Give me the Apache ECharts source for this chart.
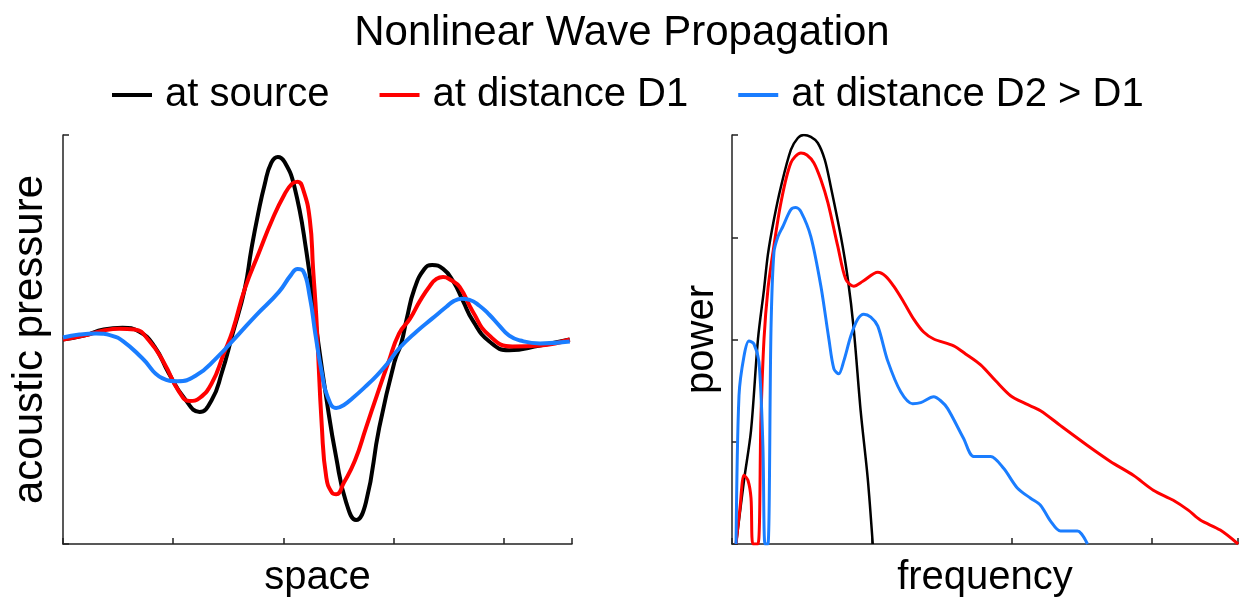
<!DOCTYPE html>
<html>
<head>
<meta charset="utf-8">
<script src="https://cdn.jsdelivr.net/npm/echarts@6/dist/echarts.min.js"></script>
<style>
  html, body { margin: 0; padding: 0; background: #fff; }
  #main { width: 1244px; height: 603px; }
</style>
</head>
<body>
<div id="main"></div>
<script>
// legend names
const seriesNames = ["at source", "at distance D1", "at distance D2 > D1"];
const colors = ["#000000", "#ff0000", "#1a7dff"];

// left panel: pressure vs space  [x, y]
const srcWave = [
  [0, 0], [0.19, 0.019], [0.37, 0.049], [0.54, 0.058], [0.69, 0.039], [0.83, -0.034],
  [0.96, -0.165], [1.10, -0.286], [1.24, -0.354], [1.35, -0.296], [1.44, -0.165],
  [1.54, 0.029], [1.65, 0.248], [1.71, 0.442], [1.77, 0.612], [1.83, 0.757], [1.89, 0.864],
  [1.95, 0.893], [2.01, 0.869], [2.10, 0.748], [2.21, 0.427], [2.30, 0.053], [2.39, -0.286],
  [2.48, -0.578], [2.57, -0.796], [2.66, -0.883], [2.75, -0.796], [2.87, -0.432],
  [3.01, -0.107], [3.07, -0.019], [3.12, 0.102], [3.19, 0.248], [3.28, 0.345], [3.35, 0.364],
  [3.45, 0.345], [3.54, 0.286], [3.63, 0.189], [3.72, 0.092], [3.87, -0.010], [4.05, -0.053],
  [4.33, -0.029], [4.60, 0]
];
const d1Wave = [
  [0, 0], [0.19, 0.019], [0.37, 0.044], [0.51, 0.053], [0.65, 0.049], [0.78, -0.005],
  [0.92, -0.117], [1.05, -0.252], [1.15, -0.301], [1.24, -0.286], [1.35, -0.214],
  [1.46, -0.068], [1.54, 0.044], [1.65, 0.248], [1.78, 0.427], [1.90, 0.587], [2.01, 0.709],
  [2.08, 0.762], [2.13, 0.772], [2.18, 0.733], [2.24, 0.587], [2.27, 0.345], [2.30, 0.102],
  [2.35, -0.432], [2.39, -0.675], [2.44, -0.748], [2.48, -0.757], [2.55, -0.699],
  [2.65, -0.592], [2.75, -0.432], [2.85, -0.272], [2.95, -0.117], [3.05, 0.029],
  [3.15, 0.102], [3.24, 0.189], [3.33, 0.262], [3.39, 0.296], [3.45, 0.306], [3.52, 0.291],
  [3.60, 0.257], [3.72, 0.136], [3.87, 0.019], [4.08, -0.034], [4.33, -0.029], [4.60, 0]
];
const d2Wave = [
  [0, 0.010], [0.15, 0.024], [0.30, 0.029], [0.44, 0.019], [0.55, -0.010], [0.72, -0.092],
  [0.90, -0.189], [1.04, -0.204], [1.21, -0.175], [1.39, -0.092], [1.60, 0.029],
  [1.75, 0.117], [1.96, 0.233], [2.07, 0.316], [2.13, 0.345], [2.18, 0.335], [2.24, 0.209],
  [2.29, 0.029], [2.35, -0.165], [2.40, -0.277], [2.48, -0.335], [2.55, -0.320],
  [2.63, -0.286], [2.74, -0.233], [2.85, -0.175], [2.96, -0.107], [3.05, -0.044],
  [3.21, 0.039], [3.35, 0.102], [3.48, 0.160], [3.55, 0.189], [3.62, 0.199], [3.69, 0.194],
  [3.78, 0.165], [3.87, 0.121], [3.96, 0.068], [4.05, 0.019], [4.15, -0.005], [4.33, -0.019],
  [4.60, -0.010]
];

// right panel: power vs frequency  [x, y]
const srcSpec = [
  [0.029, 0], [0.086, 0.623], [0.136, 1.109], [0.186, 2.005], [0.229, 2.491], [0.257, 2.832],
  [0.300, 3.173], [0.350, 3.494], [0.421, 3.854], [0.471, 3.971], [0.514, 4.000],
  [0.564, 3.981], [0.614, 3.922], [0.664, 3.757], [0.707, 3.494], [0.779, 3.007],
  [0.829, 2.589], [0.871, 2.102], [0.921, 1.294], [0.971, 0.642], [1.007, 0]
];
const d1Spec = [
  [0.029, 0], [0.057, 0.350], [0.086, 0.672], [0.114, 0.623], [0.136, 0.448], [0.150, 0],
  [0.186, 0], [0.207, 1.226], [0.229, 2.005], [0.257, 2.491], [0.293, 2.852], [0.350, 3.338],
  [0.421, 3.727], [0.493, 3.825], [0.536, 3.805], [0.586, 3.727], [0.636, 3.562],
  [0.686, 3.338], [0.757, 2.910], [0.814, 2.589], [0.871, 2.521], [0.936, 2.569],
  [1.043, 2.657], [1.100, 2.618], [1.157, 2.521], [1.229, 2.365], [1.300, 2.200],
  [1.371, 2.073], [1.443, 2.005], [1.586, 1.937], [1.671, 1.859], [1.779, 1.752],
  [1.886, 1.596], [1.993, 1.450], [2.100, 1.372], [2.207, 1.304], [2.350, 1.158],
  [2.543, 0.964], [2.707, 0.808], [2.871, 0.672], [3.014, 0.526], [3.157, 0.428],
  [3.264, 0.331], [3.350, 0.234], [3.493, 0.136], [3.621, 0]
];
const d2Spec = [
  [0.029, 0], [0.050, 1.450], [0.086, 1.839], [0.121, 1.985], [0.157, 1.956], [0.193, 1.781],
  [0.221, 0.964], [0.236, 0], [0.257, 0], [0.279, 2.102], [0.300, 2.852], [0.329, 3.007],
  [0.364, 3.105], [0.421, 3.270], [0.457, 3.290], [0.493, 3.251], [0.564, 3.007],
  [0.636, 2.521], [0.693, 2.005], [0.729, 1.713], [0.764, 1.664], [0.800, 1.791],
  [0.850, 2.034], [0.900, 2.200], [0.943, 2.248], [0.993, 2.219], [1.043, 2.131],
  [1.114, 1.791], [1.207, 1.489], [1.293, 1.372], [1.350, 1.382], [1.443, 1.440],
  [1.493, 1.401], [1.543, 1.324], [1.657, 1.032], [1.729, 0.856], [1.850, 0.856],
  [1.943, 0.740], [2.043, 0.545], [2.136, 0.448], [2.207, 0.380], [2.279, 0.224],
  [2.350, 0.127], [2.471, 0.127], [2.543, 0]
];

const font = "Liberation Sans, Arial, Helvetica, sans-serif";
const axisLine = { show: true, onZero: false, lineStyle: { color: "#222", width: 1.5 } };
const axisTick = { show: true, inside: true, length: 6, lineStyle: { color: "#222", width: 1.5 } };
const nameStyle = { fontFamily: font, fontSize: 40, color: "#000" };

const chart = echarts.init(document.getElementById("main"));

function lineSeries(name, data, i, grid, width, smooth) {
  return {
    name: name,
    type: "line",
    xAxisIndex: grid,
    yAxisIndex: grid,
    data: data,
    showSymbol: false,
    smooth: smooth,
    color: colors[i],
    lineStyle: { color: colors[i], width: width },
    animation: false
  };
}

const option = {
  backgroundColor: "#fff",
  title: {
    text: "Nonlinear Wave Propagation",
    left: "center",
    top: 12,
    padding: 0,
    textStyle: { fontFamily: font, fontSize: 42, fontWeight: "normal", color: "#000" }
  },
  legend: {
    data: seriesNames,
    left: 112,
    top: 75,
    padding: 0,
    icon: "rect",
    itemWidth: 40,
    itemHeight: 4,
    itemGap: 50,
    textStyle: { fontFamily: font, fontSize: 40, color: "#000", padding: [0, 0, 0, 8] }
  },
  grid: [
    { left: 63, top: 135, width: 509, height: 412 },
    { left: 732, top: 135, width: 506, height: 411 }
  ],
  xAxis: [
    {
      gridIndex: 0, type: "value", min: 0, max: 4.62, interval: 1,
      name: "space", nameLocation: "middle", nameGap: 14, nameTextStyle: nameStyle,
      axisLine: axisLine, axisTick: axisTick, axisLabel: { show: false }, splitLine: { show: false }
    },
    {
      gridIndex: 1, type: "value", min: 0, max: 3.62, interval: 1,
      name: "frequency", nameLocation: "middle", nameGap: 14, nameTextStyle: nameStyle,
      axisLine: axisLine, axisTick: axisTick, axisLabel: { show: false }, splitLine: { show: false }
    }
  ],
  yAxis: [
    {
      gridIndex: 0, type: "value", min: -1, max: 1, interval: 2,
      name: "acoustic pressure", nameLocation: "middle", nameGap: 12,
      nameTextStyle: Object.assign({}, nameStyle, { fontSize: 42 }),
      axisLine: axisLine, axisTick: axisTick, axisLabel: { show: false }, splitLine: { show: false }
    },
    {
      gridIndex: 1, type: "value", min: 0, max: 4, interval: 1,
      name: "power", nameLocation: "middle", nameGap: 10, nameTextStyle: nameStyle,
      axisLine: axisLine, axisTick: axisTick, axisLabel: { show: false }, splitLine: { show: false }
    }
  ],
  series: [
    lineSeries(seriesNames[0], srcWave, 0, 0, 4, 0.5),
    lineSeries(seriesNames[1], d1Wave, 1, 0, 4, 0.5),
    lineSeries(seriesNames[2], d2Wave, 2, 0, 4, 0.5),
    lineSeries(seriesNames[0], srcSpec, 0, 1, 2.5, 0.3),
    lineSeries(seriesNames[1], d1Spec, 1, 1, 3, 0.3),
    lineSeries(seriesNames[2], d2Spec, 2, 1, 3, 0.3)
  ]
};

chart.setOption(option);
</script>
</body>
</html>
